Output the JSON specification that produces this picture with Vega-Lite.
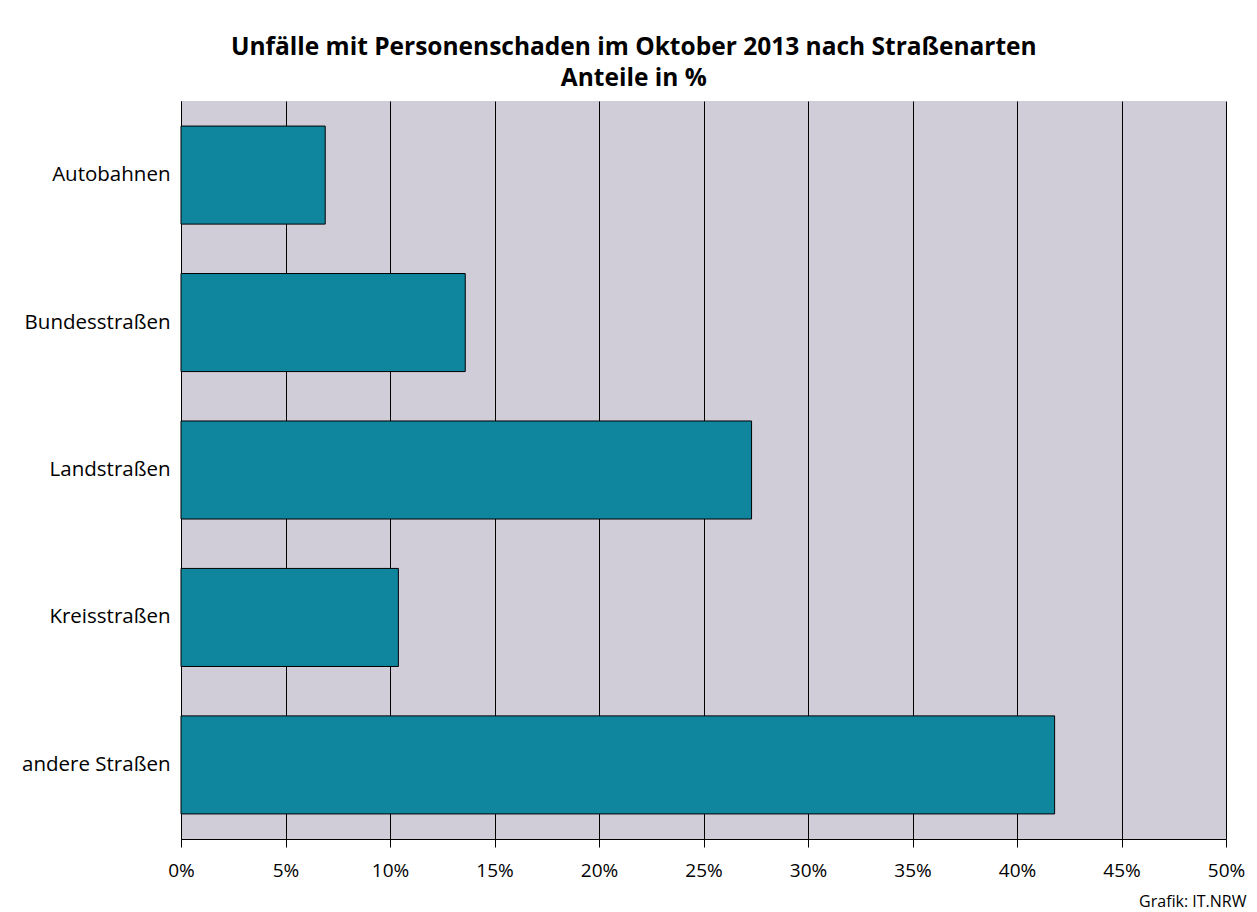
{
  "$schema": "https://vega.github.io/schema/vega-lite/v6.json",
  "autosize": {"type": "none"},
  "width": 1045,
  "height": 738,
  "padding": {"left": 181, "top": 101, "right": 31, "bottom": 73},
  "background": "white",
  "title": {
    "text": ["Unfälle mit Personenschaden im Oktober 2013 nach Straßenarten", "Anteile in %"],
    "anchor": "middle",
    "frame": "bounds",
    "font": "Open Sans",
    "fontWeight": "bold",
    "fontSize": 24.5,
    "lineHeight": 31,
    "color": "black",
    "offset": 10
  },
  "data": {
    "values": [
      {"strasse": "Autobahnen", "anteil": 6.9},
      {"strasse": "Bundesstraßen", "anteil": 13.6},
      {"strasse": "Landstraßen", "anteil": 27.3},
      {"strasse": "Kreisstraßen", "anteil": 10.4},
      {"strasse": "andere Straßen", "anteil": 41.8}
    ]
  },
  "mark": {"type": "bar", "color": "#0F859E", "stroke": "black", "strokeWidth": 1},
  "encoding": {
    "y": {
      "field": "strasse",
      "type": "nominal",
      "sort": null,
      "scale": {"paddingInner": 0.335, "paddingOuter": 0.17},
      "axis": {
        "title": null,
        "ticks": false,
        "domain": true,
        "domainColor": "black",
        "labelFont": "Open Sans",
        "labelFontSize": 20.5,
        "labelColor": "black",
        "labelPadding": 11
      }
    },
    "x": {
      "field": "anteil",
      "type": "quantitative",
      "scale": {"domain": [0, 50], "nice": false},
      "axis": {
        "values": [0, 5, 10, 15, 20, 25, 30, 35, 40, 45, 50],
        "labelExpr": "datum.value + '%'",
        "title": "Grafik: IT.NRW",
        "titleFont": "Open Sans",
        "titleFontSize": 16,
        "titleFontWeight": "normal",
        "titleColor": "black",
        "titleAlign": "right",
        "titleBaseline": "alphabetic",
        "titleX": 1065,
        "titleY": 67,
        "grid": true,
        "gridColor": "black",
        "gridWidth": 1,
        "gridOpacity": 1,
        "domainColor": "black",
        "tickColor": "black",
        "tickSize": 8,
        "labelFont": "Open Sans",
        "labelFontSize": 19,
        "labelColor": "black",
        "labelPadding": 14,
        "labelFlush": false
      }
    }
  },
  "config": {
    "view": {"fill": "#D0CDD8", "stroke": null}
  }
}
